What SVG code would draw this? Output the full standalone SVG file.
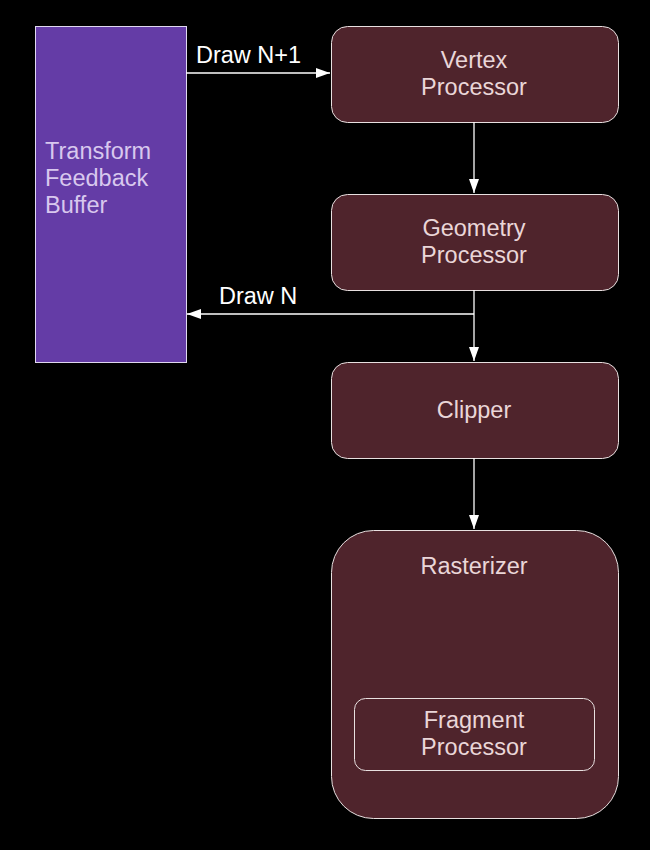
<svg xmlns="http://www.w3.org/2000/svg" width="650" height="850" viewBox="0 0 650 850">
<defs>
<style>
.node{fill:#4f242c;stroke:#e8e0e0;stroke-width:1}
.t{font-family:"Liberation Sans",Arial,sans-serif;font-size:23.5px;fill:#ead6d8;text-anchor:middle}
.lbl{font-family:"Liberation Sans",Arial,sans-serif;font-size:23.5px;fill:#ffffff}
.b{font-family:"Liberation Sans",Arial,sans-serif;font-size:23.5px;fill:#d8c8ee}
.c{stroke:#ffffff;stroke-width:1.3;fill:none}
</style>
<marker id="ah" markerWidth="14" markerHeight="10" refX="14" refY="5" orient="auto" markerUnits="userSpaceOnUse">
<path d="M0,0 L14,5 L0,10 Z" fill="#ffffff"/>
</marker>
</defs>
<rect width="650" height="850" fill="#000000"/>
<g id="buffer">
<rect x="35.5" y="26.5" width="151" height="336" fill="#643ca6" stroke="#e0d8f0" stroke-width="1"/>
<text class="b" x="45" y="159">Transform</text>
<text class="b" x="45" y="186">Feedback</text>
<text class="b" x="45" y="213">Buffer</text>
</g>
<g id="vertex">
<rect class="node" x="331.5" y="26.5" width="287" height="96" rx="16"/>
<text class="t" x="474" y="68">Vertex</text>
<text class="t" x="474" y="95">Processor</text>
</g>
<g id="geometry">
<rect class="node" x="331.5" y="194.5" width="287" height="96" rx="16"/>
<text class="t" x="474" y="236">Geometry</text>
<text class="t" x="474" y="263">Processor</text>
</g>
<g id="clipper">
<rect class="node" x="331.5" y="362.5" width="287" height="96" rx="16"/>
<text class="t" x="474" y="418">Clipper</text>
</g>
<g id="rasterizer">
<rect class="node" x="331.5" y="530.5" width="287" height="288" rx="42"/>
<text class="t" x="474" y="574">Rasterizer</text>
</g>
<g id="fragment">
<rect class="node" x="354.5" y="698.5" width="240" height="72" rx="11"/>
<text class="t" x="474" y="728">Fragment</text>
<text class="t" x="474" y="755">Processor</text>
</g>
<g id="connectors">
<line class="c" x1="186" y1="73" x2="330" y2="73" marker-end="url(#ah)"/>
<text class="lbl" x="196" y="63">Draw N+1</text>
<line class="c" x1="474" y1="122" x2="474" y2="193" marker-end="url(#ah)"/>
<line class="c" x1="474" y1="290" x2="474" y2="361" marker-end="url(#ah)"/>
<line class="c" x1="474" y1="314" x2="187" y2="314" marker-end="url(#ah)"/>
<text class="lbl" x="219" y="304">Draw N</text>
<line class="c" x1="474" y1="458" x2="474" y2="529" marker-end="url(#ah)"/>
</g>
</svg>
